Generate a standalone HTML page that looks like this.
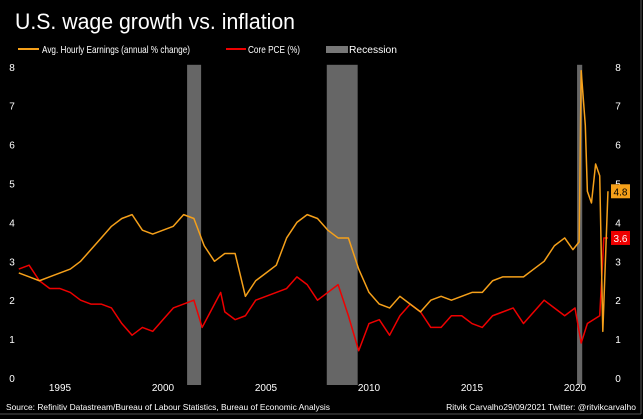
<!DOCTYPE html>
<html><head><meta charset="utf-8"><style>
body{margin:0;background:#000;width:643px;height:419px;overflow:hidden;font-family:"Liberation Sans",sans-serif}
svg{display:block}
text{fill:#fff}
</style></head><body>
<svg width="643" height="419">
<rect x="0" y="0" width="643" height="419" fill="#000"/>
<line x1="641" y1="0" x2="641" y2="414" stroke="#555"/>
<line x1="0" y1="414" x2="641" y2="414" stroke="#555"/>
<text x="15" y="29" font-size="22" textLength="280" lengthAdjust="spacingAndGlyphs">U.S. wage growth vs. inflation</text>
<g>
<line x1="18" y1="49" x2="39" y2="49" stroke="#f5a01a" stroke-width="2"/>
<text x="42" y="53" font-size="10.5" textLength="148" lengthAdjust="spacingAndGlyphs">Avg. Hourly Earnings (annual % change)</text>
<line x1="226" y1="49" x2="246" y2="49" stroke="#e00" stroke-width="2"/>
<text x="248" y="53" font-size="10.5" textLength="52" lengthAdjust="spacingAndGlyphs">Core PCE (%)</text>
<rect x="326" y="46" width="22" height="7" fill="#777"/>
<text x="349" y="53" font-size="10.5" textLength="48" lengthAdjust="spacingAndGlyphs">Recession</text>
</g>
<g id="plot"></g>
<text x="6" y="410" font-size="8.5" textLength="324" lengthAdjust="spacingAndGlyphs">Source: Refinitiv Datastream/Bureau of Labour Statistics, Bureau of Economic Analysis</text>
<text x="636" y="410" font-size="8.5" text-anchor="end">Ritvik Carvalho29/09/2021 Twitter: @ritvikcarvalho</text>
</svg>
<script>
const recessions=[[2001.17,2001.85],[2007.95,2009.45],[2020.1,2020.35]];
const yTicks=[0,1,2,3,4,5,6,7,8];
const xTicks=[1995,2000,2005,2010,2015,2020];
const earnYears=[1993,1993.5,1994,1994.5,1995,1995.5,1996,1996.5,1997,1997.5,1998,1998.5,1999,1999.5,2000,2000.5,2001,2001.5,2002,2002.5,2003,2003.5,2004,2004.5,2005,2005.5,2006,2006.5,2007,2007.5,2008,2008.5,2009,2009.5,2010,2010.5,2011,2011.5,2012,2012.5,2013,2013.5,2014,2014.5,2015,2015.5,2016,2016.5,2017,2017.5,2018,2018.5,2019,2019.5,2019.9,2020.2,2020.3,2020.5,2020.6,2020.8,2021.0,2021.2,2021.35,2021.6];
const earnValues=[2.7,2.6,2.5,2.6,2.7,2.8,3.0,3.3,3.6,3.9,4.1,4.2,3.8,3.7,3.8,3.9,4.2,4.1,3.4,3.0,3.2,3.2,2.1,2.5,2.7,2.9,3.6,4.0,4.2,4.1,3.8,3.6,3.6,2.8,2.2,1.9,1.8,2.1,1.9,1.7,2.0,2.1,2.0,2.1,2.2,2.2,2.5,2.6,2.6,2.6,2.8,3.0,3.4,3.6,3.3,3.5,7.9,6.5,4.8,4.5,5.5,5.2,1.2,4.8];
const pceYears=[1993,1993.5,1994,1994.5,1995,1995.5,1996,1996.5,1997,1997.5,1998,1998.5,1999,1999.5,2000,2000.5,2001,2001.5,2001.9,2002.3,2002.8,2003,2003.5,2004,2004.5,2005,2005.5,2006,2006.5,2007,2007.5,2008,2008.5,2009,2009.5,2010,2010.5,2011,2011.5,2012,2012.5,2013,2013.5,2014,2014.5,2015,2015.5,2016,2016.5,2017,2017.5,2018,2018.5,2019,2019.5,2020,2020.3,2020.6,2020.9,2021.2,2021.4,2021.6];
const pceValues=[2.8,2.9,2.5,2.3,2.3,2.2,2.0,1.9,1.9,1.8,1.4,1.1,1.3,1.2,1.5,1.8,1.9,2.0,1.3,1.7,2.2,1.7,1.5,1.6,2.0,2.1,2.2,2.3,2.6,2.4,2.0,2.2,2.4,1.6,0.7,1.4,1.5,1.1,1.6,1.9,1.7,1.3,1.3,1.6,1.6,1.4,1.3,1.6,1.7,1.8,1.4,1.7,2.0,1.8,1.6,1.8,0.9,1.4,1.5,1.6,3.6,3.6];
const earnLast=4.8, pceLast=3.6;

const x=y=>163+(y-2000)*20.6;
const yS=v=>378-v*38.9;
const g=document.getElementById('plot');
const NS='http://www.w3.org/2000/svg';
function mk(t,a){const e=document.createElementNS(NS,t);for(const k in a)e.setAttribute(k,a[k]);g.appendChild(e);return e;}
recessions.forEach(r=>{
  const e=mk('rect',{x:x(r[0]),y:yS(8)-2,width:x(r[1])-x(r[0]),height:yS(0)-yS(8)+9,fill:'#666'});
  
  
});
yTicks.forEach(v=>{
  const a=mk('text',{x:12,y:yS(v)+4,'font-size':10,'text-anchor':'middle'});a.textContent=v;
  
  
  const b=mk('text',{x:618,y:yS(v)+4,'font-size':10,'text-anchor':'middle'});b.textContent=v;
  
  
});
xTicks.forEach(t=>{
  const a=mk('text',{x:x(t),y:391,'font-size':10,'text-anchor':'middle'});a.textContent=t;
  
  
});
function line(xs,vs,c,n){
  const p=mk('polyline',{points:xs.map((t,i)=>x(t)+','+yS(vs[i])).join(' '),fill:'none',stroke:c,'stroke-width':1.5,'stroke-linejoin':'round'});
  
  
}
line(pceYears,pceValues,'#e00','core-pce-line');
line(earnYears,earnValues,'#f5a01a','earnings-line');
function badge(v,c,n){
  const r=mk('rect',{x:611,y:yS(v)-7,width:19,height:14,fill:c});
  
  
  const t=mk('text',{x:620.5,y:yS(v)+4,'font-size':10,'text-anchor':'middle'});t.textContent=v.toFixed(1);
  
  
  if(c==='#f5a01a')t.style.fill='#000';
}
badge(earnLast,'#f5a01a','earnings-last');
badge(pceLast,'#e00','pce-last');
</script>
</body></html>
